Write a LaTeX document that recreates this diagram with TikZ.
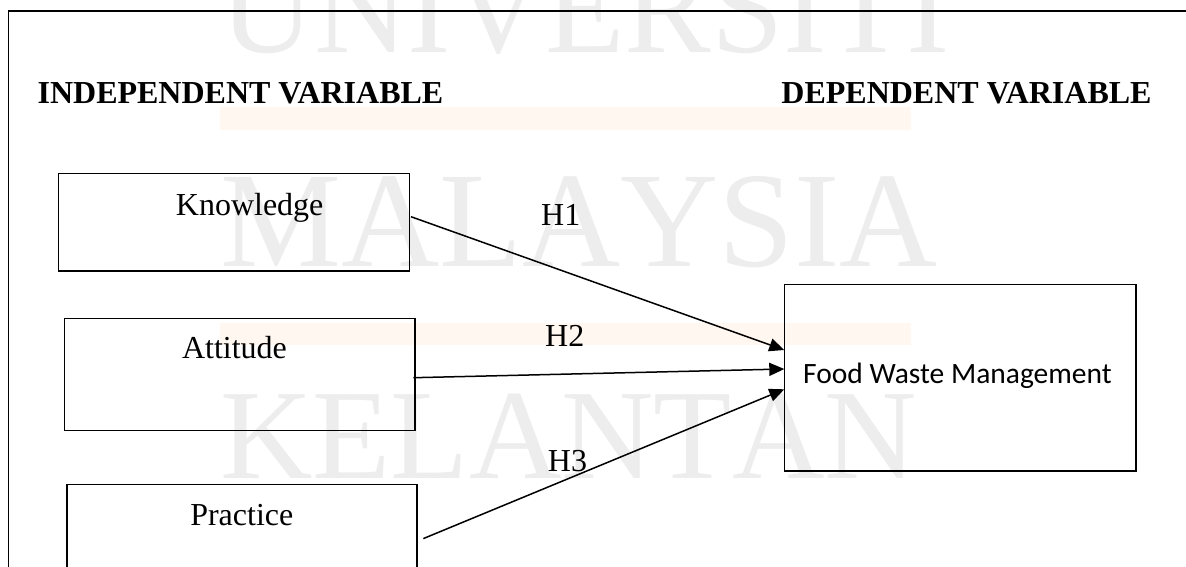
\documentclass[tikz,border=0pt]{standalone}
\usepackage{fontspec}
\setmainfont{Liberation Serif}
\newfontfamily\calfont{Carlito}
\usetikzlibrary{arrows.meta}
\begin{document}
\begin{tikzpicture}[x=1pt,y=-1pt,
  box/.style={draw,line width=1.6pt,inner sep=0pt,outer sep=0pt,anchor=north west},
  lbl/.style={inner sep=0pt,anchor=base west,font=\fontsize{32}{38}\selectfont},
  head/.style={inner sep=0pt,anchor=base west,font=\fontsize{32}{38}\selectfont\bfseries},
  link/.style={line width=1.5pt,-{Triangle[length=15pt,width=13pt]}},
  wm/.style={inner sep=0pt,anchor=base west,text=black!7}]
\clip (0,0) rectangle (1186,566);
\fill[white] (0,0) rectangle (1186,566);
% watermark
\fill[orange!6] (220,107) rectangle (911,130);
\fill[orange!6] (220,323) rectangle (911,345);
\node[wm,font=\fontsize{130}{130}\selectfont] (wmu) at (220,52) {\makebox[690pt][s]{U\hfill N\hfill I\hfill V\hfill E\hfill R\hfill S\hfill I\hfill T\hfill I}};
\node[wm,font=\fontsize{136}{136}\selectfont] (wmm) at (220,266) {\makebox[686pt][s]{M\hfill A\hfill L\hfill A\hfill Y\hfill S\hfill I\hfill A}};
\node[wm,font=\fontsize{128}{128}\selectfont] (wmk) at (220,478) {\makebox[688pt][s]{K\hfill E\hfill L\hfill A\hfill N\hfill T\hfill A\hfill N}};
% frame
\draw[line width=1.8pt] (8.4,600) -- (8.4,11) -- (1200,11);
% headings
\node[head] (indep) at (37.4,103.3) {INDEPENDENT VARIABLE};
\node[head] (dep) at (781.2,103.3) {DEPENDENT VARIABLE};
% boxes
\node[box,minimum width=350.9pt,minimum height=97.4pt] (kbox) at (58.6,173.3) {};
\node[box,minimum width=350.7pt,minimum height=112.2pt] (abox) at (64.3,318.3) {};
\node[box,minimum width=349.7pt,minimum height=120pt] (pbox) at (67,484.3) {};
\node[box,minimum width=351.4pt,minimum height=186.4pt] (fbox) at (784.3,284.3) {};
% box texts
\node[lbl] (ktext) at (175.7,215) {Knowledge};
\node[lbl] (atext) at (181.8,358.3) {Attitude};
\node[lbl] (ptext) at (190.1,525) {Practice};
\node[inner sep=0pt,anchor=base west,font=\calfont\fontsize{29.5}{34}\selectfont] (ftext) at (803,383.3) {Food Waste Management};
% hypothesis labels
\node[lbl] (h1) at (541,225) {H1};
\node[lbl] (h2) at (545,346.7) {H2};
\node[lbl] (h3) at (547.7,471.7) {H3};
% connectors
\draw[link] ([xshift=1.5pt,yshift=5.3pt]kbox.east) -- ([yshift=27.5pt]fbox.west);
\draw[link] ([xshift=-1.7pt,yshift=-3.3pt]abox.east) -- ([yshift=8.5pt]fbox.west);
\draw[link] ([xshift=6.6pt,yshift=5.7pt]pbox.east) -- ([yshift=-11.8pt]fbox.west);
\end{tikzpicture}
\end{document}
